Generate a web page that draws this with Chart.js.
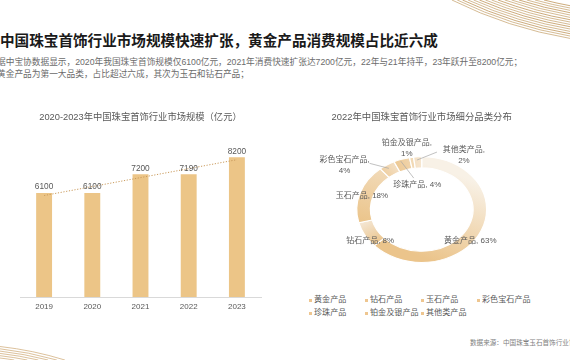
<!DOCTYPE html>
<html>
<head>
<meta charset="utf-8">
<script src="https://cdn.jsdelivr.net/npm/chart.js@4.4.1/dist/chart.umd.min.js"></script>
<style>
html,body{margin:0;padding:0;width:570px;height:360px;overflow:hidden;background:#fff;}
body{position:relative;font-family:"Liberation Sans","Noto Sans CJK SC",sans-serif;}
#deco{position:absolute;left:0;top:0;width:570px;height:360px;pointer-events:none;z-index:0;}
#title{position:absolute;left:0;top:31px;font-family:"Noto Sans CJK SC",sans-serif;font-size:14.6px;line-height:18px;font-weight:700;color:#1a1a1a;white-space:nowrap;}
#sub{position:absolute;left:-3px;top:57px;font-size:8.7px;line-height:11.5px;color:#6b6b6b;white-space:nowrap;}
#barBox{position:absolute;left:0;top:100px;width:290px;height:230px;}
#pieBox{position:absolute;left:290px;top:100px;width:280px;height:190px;}
#legend{position:absolute;left:309px;top:294.4px;width:240px;font-size:8.1px;line-height:12.6px;color:#595959;display:flex;flex-wrap:wrap;}
#legend .it{width:56px;white-space:nowrap;display:flex;align-items:center;}
#legend .mk{width:3px;height:3px;margin-right:2px;flex:none;}
#source{position:absolute;left:470px;top:337.5px;font-size:6.6px;line-height:9px;color:#7f7f7f;white-space:nowrap;}
</style>
</head>
<body>
<svg id="deco" width="570" height="360" viewBox="0 0 570 360" xmlns="http://www.w3.org/2000/svg"></svg>
<div id="title">中国珠宝首饰行业市场规模快速扩张，黄金产品消费规模占比近六成</div>
<div id="sub">据中宝协数据显示，2020年我国珠宝首饰规模仅6100亿元，2021年消费快速扩张达7200亿元，22年与21年持平，23年跃升至8200亿元；<br>黄金产品为第一大品类，占比超过六成，其次为玉石和钻石产品；</div>
<div id="barBox"><canvas id="bar" width="290" height="230"></canvas></div>
<div id="pieBox"><canvas id="pie" width="280" height="190"></canvas></div>
<div id="legend"></div>
<div id="source">数据来源：中国珠宝玉石首饰行业协会</div>
<script>
// ---- data ----
const years = ['2019', '2020', '2021', '2022', '2023'];
const marketSize = [6100, 6100, 7200, 7190, 8200];
const trendLine = [5950, null, null, null, 8050];
const categories = ['黄金产品', '钻石产品', '玉石产品', '彩色宝石产品', '珍珠产品', '铂金及银产品', '其他类产品'];
const shares = [63, 8, 18, 4, 4, 1, 2];

// ---- styles ----
const FONT = '"Liberation Sans","Noto Sans CJK SC",sans-serif';
const TXT = '#595959';
const RADIUS = 52.8;
const SX = 1.23;
const segColors = [
  ['#f8f1e6', '#ebc48b'],
  ['#ebc58d', '#f4e6d3'],
  ['#ebc58c', '#f1d9b6'],
  ['#efd0a3', '#f3dfc4'],
  ['#edc995', '#f0d4ab'],
  ['#f1d8b3', '#f2dab6'],
  ['#f4e0c4', '#f6e6d0']
];
const labelLayout = [
  {dx: -4.7, dy: 12.7},
  {dx: -0.6, dy: 8.7},
  {dx: -4.5, dy: 0.8},
  {dx: -46, dy: -4.3, wrap: true, leader: [-21, -6.3, -1.7, -1.3]},
  {dx: 13.5, dy: 20.5, leader: [-3, -3.5, 10, 13.5]},
  {dx: -5.8, dy: -14.5, wrap: true},
  {dx: 45.9, dy: -7, wrap: true, leader: [18.9, -10.3, -1.1, -2.3]}
];

// ---- decorations (corner ornaments) ----
(function(){
  const svg = document.getElementById('deco');
  let html = '';
  // top-right golden sweep
  for (let k = 0; k < 15; k++) {
    const r = 390 + k * 2.3;
    const xTop = 640 - Math.sqrt(r * r - 378 * 378);
    const yRight = -378 + Math.sqrt(r * r - 70 * 70);
    const op = (0.55 + 0.45 * (k % 3 === 0 ? 1 : 0.6)).toFixed(2);
    html += '<path d="M' + xTop.toFixed(1) + ' 0 A' + r + ' ' + r + ' 0 0 0 570 ' + yRight.toFixed(1) +
            '" fill="none" stroke="#bf965a" stroke-width="0.8" stroke-opacity="' + op + '"/>';
  }
  // bottom-left sweep
  for (let k = 0; k < 7; k++) {
    const r = 342 + k * 2.3;
    const yLeft = 700 - Math.sqrt(r * r - 40 * 40);
    const xBot = -40 + Math.sqrt(r * r - 340 * 340);
    html += '<path d="M0 ' + yLeft.toFixed(1) + ' A' + r + ' ' + r + ' 0 0 1 ' + xBot.toFixed(1) +
            ' 360" fill="none" stroke="#d3b283" stroke-width="1" stroke-opacity="0.8"/>';
  }
  svg.innerHTML = html;
})();

// ---- legend ----
(function(){
  const lg = document.getElementById('legend');
  categories.forEach((c) => {
    const it = document.createElement('div'); it.className = 'it';
    const mk = document.createElement('span'); mk.className = 'mk'; mk.style.background = '#eec690';
    const tx = document.createElement('span'); tx.textContent = c;
    it.appendChild(mk); it.appendChild(tx); lg.appendChild(it);
  });
})();

// ---- bar chart ----
const valueLabels = {
  id: 'valueLabels',
  afterDatasetsDraw(chart) {
    const ctx = chart.ctx;
    const meta = chart.getDatasetMeta(1);
    ctx.save();
    ctx.font = '8.3px ' + FONT;
    ctx.fillStyle = TXT;
    ctx.textAlign = 'center';
    ctx.textBaseline = 'alphabetic';
    meta.data.forEach((bar, i) => {
      ctx.fillText(String(chart.data.datasets[1].data[i]), bar.x, bar.y - 3.5);
    });
    ctx.restore();
  }
};

new Chart(document.getElementById('bar'), {
  type: 'bar',
  data: {
    labels: years,
    datasets: [
      {type: 'line', data: trendLine, spanGaps: true, borderColor: '#c99a5c', borderWidth: 1,
       borderDash: [1.2, 1.6], pointRadius: 0, fill: false, order: 0},
      {type: 'bar', data: marketSize, backgroundColor: '#ecc587', borderWidth: 0,
       barPercentage: 0.33, categoryPercentage: 1, order: 1}
    ]
  },
  options: {
    responsive: false, animation: false, events: [],
    layout: {padding: {left: 20, right: 29, top: 0, bottom: 0}},
    plugins: {
      legend: {display: false}, tooltip: {enabled: false},
      title: {display: true, text: '2020-2023年中国珠宝首饰行业市场规模（亿元）', color: TXT,
              font: {family: FONT, size: 9.3, weight: 'normal'}, padding: {top: 11.4, bottom: 12.4}}
    },
    scales: {
      x: {
        grid: {display: true, drawOnChartArea: false, drawTicks: false},
        border: {display: true, color: '#d9d9d9', width: 1},
        ticks: {color: TXT, font: {family: FONT, size: 8}, padding: 5},
        afterFit(s) { s.height = 33; }
      },
      y: {display: false, min: 0, max: 9500}
    }
  },
  plugins: [valueLabels]
});

// ---- doughnut ----
function segFill(c) {
  const chart = c.chart, ca = chart.chartArea;
  const pair = segColors[c.dataIndex % segColors.length];
  if (!ca) return pair[1];
  const vals = c.dataset.data;
  const tot = vals.reduce((a, b) => a + b, 0);
  let s = 0;
  for (let k = 0; k < c.dataIndex; k++) s += vals[k];
  const a0 = s / tot * 2 * Math.PI, a1 = (s + vals[c.dataIndex]) / tot * 2 * Math.PI;
  const cx = (ca.left + ca.right) / 2, cy = (ca.top + ca.bottom) / 2, r = RADIUS * 0.9;
  const g = chart.ctx.createLinearGradient(cx + r * Math.sin(a0), cy - r * Math.cos(a0),
                                           cx + r * Math.sin(a1), cy - r * Math.cos(a1));
  g.addColorStop(0, pair[0]);
  g.addColorStop(1, pair[1]);
  return g;
}

const ellipse = {
  id: 'ellipse',
  beforeDatasetsDraw(chart) {
    const a = chart.getDatasetMeta(0).data[0];
    const ctx = chart.ctx;
    ctx.save();
    ctx.translate(a.x, a.y); ctx.scale(SX, 1); ctx.translate(-a.x, -a.y);
  },
  afterDatasetsDraw(chart) { chart.ctx.restore(); }
};

const sliceLabels = {
  id: 'sliceLabels',
  afterDraw(chart) {
    const ctx = chart.ctx;
    const meta = chart.getDatasetMeta(0);
    ctx.save();
    ctx.font = '8px ' + FONT;
    ctx.fillStyle = TXT;
    ctx.textAlign = 'center';
    ctx.textBaseline = 'middle';
    meta.data.forEach((arc, i) => {
      const L = labelLayout[i];
      const mid = (arc.startAngle + arc.endAngle) / 2;
      const rm = (arc.innerRadius + arc.outerRadius) / 2;
      const ax = arc.x + SX * rm * Math.cos(mid), ay = arc.y + rm * Math.sin(mid);
      if (L.leader) {
        ctx.strokeStyle = '#a6a6a6'; ctx.lineWidth = 0.7;
        ctx.beginPath();
        ctx.moveTo(ax + L.leader[0], ay + L.leader[1]);
        ctx.lineTo(ax + L.leader[2], ay + L.leader[3]);
        ctx.stroke();
      }
      const lines = L.wrap ? [categories[i] + ',', shares[i] + '%'] : [categories[i] + ', ' + shares[i] + '%'];
      const lh = 10.7;
      const y0 = ay + L.dy - (lines.length - 1) * lh / 2;
      lines.forEach((t, k) => ctx.fillText(t, ax + L.dx, y0 + k * lh));
    });
    ctx.restore();
  }
};

new Chart(document.getElementById('pie'), {
  type: 'doughnut',
  data: {
    labels: categories,
    datasets: [{data: shares, backgroundColor: segFill, borderColor: '#ffffff', borderWidth: 1}]
  },
  options: {
    responsive: false, animation: false, events: [],
    radius: RADIUS, cutout: '79%',
    layout: {padding: {left: 20, right: 36.6, top: 0, bottom: 6}},
    plugins: {
      legend: {display: false}, tooltip: {enabled: false},
      title: {display: true, text: '2022年中国珠宝首饰行业市场细分品类分布', color: TXT,
              font: {family: FONT, size: 9.4, weight: 'normal'}, padding: {top: 11.4, bottom: 12.4}}
    }
  },
  plugins: [ellipse, sliceLabels]
});
</script>
</body>
</html>
